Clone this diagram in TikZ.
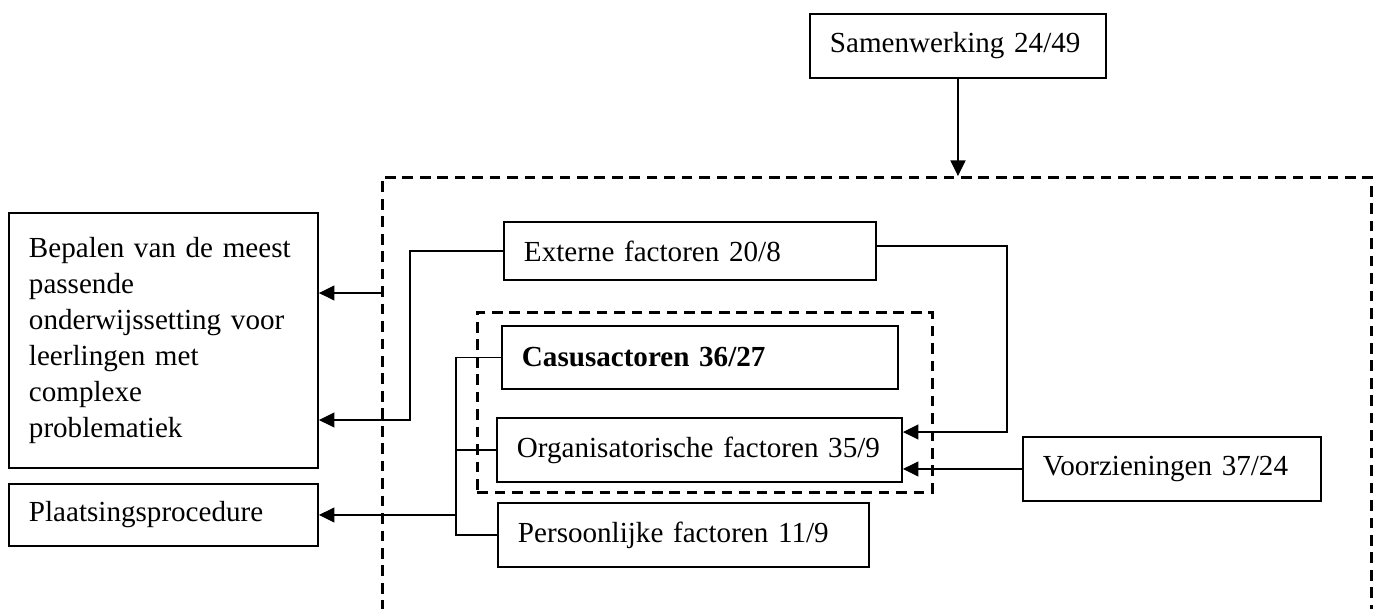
\documentclass[tikz,border=0pt]{standalone}
\usepackage{fontspec}
\setmainfont{Liberation Serif}
\usetikzlibrary{arrows.meta,positioning}
\newdimen\eenh \eenh=0.4125pt
\tikzset{
  box/.style={draw, line width=0.8pt, anchor=north west, inner xsep=20\eenh, inner ysep=0pt, align=left, font=\fontsize{12}{14.85}\selectfont},
  kader/.style={draw, line width=1.1pt, dash pattern=on 4.4pt off 2.8pt, anchor=north west, inner sep=0pt},
  lijn/.style={line width=0.45pt},
  pijl/.style={lijn, -{Triangle[length=6.4pt,width=6.2pt]}}
}
\begin{document}
\begin{tikzpicture}[x=0.4125pt, y=-0.4125pt]
\useasboundingbox (0,0) rectangle (1378,608);
% kaders
\node[kader, minimum width=989\eenh, minimum height=444\eenh] (buiten) at (381,176) {};
\node[kader, minimum width=455\eenh, minimum height=180\eenh] (binnen) at (476,311) {};
% blokken
\node[box, text width=256\eenh, minimum height=64\eenh] (samen) at (809,13) {Samenwerking 24/49};
\node[box, text width=269\eenh, minimum height=255\eenh] (bep) at (8,212) {Bepalen van de meest\\ passende\\ onderwijssetting voor\\ leerlingen met\\ complexe\\ problematiek};
\node[box, text width=269\eenh, minimum height=62\eenh] (plaats) at (8,483) {Plaatsingsprocedure};
\node[box, text width=332\eenh, minimum height=58\eenh] (extern) at (503,221) {Externe factoren 20/8};
\node[box, text width=356\eenh, minimum height=63\eenh] (casus) at (501,325) {\textbf{Casusactoren 36/27}};
\node[box, text width=365\eenh, minimum height=64\eenh] (org) at (496,417) {Organisatorische factoren 35/9};
\node[box, text width=331\eenh, minimum height=64\eenh] (pers) at (497,502) {Persoonlijke factoren 11/9};
\node[box, text width=258\eenh, minimum height=64\eenh] (voorz) at (1022,436) {Voorzieningen 37/24};
% verbindingen
\draw[pijl] (samen.south) -- (samen.south |- buiten.north);
\coordinate (k1) at (381,293);
\draw[pijl] (k1) -- (k1 -| bep.east);
\coordinate (e1) at (410,420);
\draw[pijl] (extern.west) -| (e1) -- (e1 -| bep.east);
\coordinate (e2) at (1007,432);
\draw[pijl] ([yshift=5\eenh]extern.east) -| (e2) -- (e2 -| org.east);
\draw[pijl] (voorz.west) -- (voorz.west -| org.east);
\coordinate (s) at (456,0);
\draw[lijn] (casus.west) -- (casus.west -| s) -- (pers.west -| s) -- (pers.west);
\draw[lijn] (org.west) -- (org.west -| s);
\draw[pijl] (plaats.east -| s) -- (plaats.east);
\end{tikzpicture}
\end{document}
